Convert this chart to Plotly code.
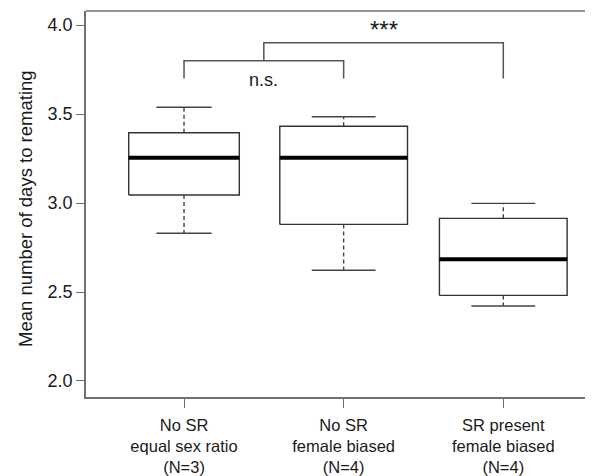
import plotly.graph_objects as go
import numpy as np

# ---- data ----
categories = ["No SR<br>equal sex ratio<br>(N=3)",
              "No SR<br>female biased<br>(N=4)",
              "SR present<br>female biased<br>(N=4)"]
group_n = [3, 4, 4]
lower_whisker = [2.830, 2.622, 2.421]
q1 = [3.045, 2.880, 2.481]
median = [3.255, 3.255, 2.684]
q3 = [3.395, 3.431, 2.914]
upper_whisker = [3.538, 3.485, 2.998]
y_ticks = [2.0, 2.5, 3.0, 3.5, 4.0]

# significance brackets
sig_low = dict(x0=1, x1=2, y=3.80, tip=3.70, label="n.s.", lx=1.5, ly=3.69)
sig_high = dict(x0=1.5, x1=3, y=3.90, tip_left=3.80, tip_right=3.70, label="***", lx=2.25, ly=3.975)

FONT = "Liberation Sans, Arial, Helvetica, sans-serif"
TXT = "#1a1a1a"
BOX_COL = "#333333"
AX_COL = "#707070"

pos = np.arange(1, len(categories) + 1)
nmax = max(group_n)
half_w = [0.40 * np.sqrt(n / nmax) for n in group_n]

fig = go.Figure()

box_x, box_y = [], []
med_x, med_y = [], []
wh_x, wh_y = [], []
cap_x, cap_y = [], []
for i, p in enumerate(pos):
    hw = half_w[i]
    box_x += [p - hw, p + hw, p + hw, p - hw, p - hw, None]
    box_y += [q1[i], q1[i], q3[i], q3[i], q1[i], None]
    med_x += [p - hw, p + hw, None]
    med_y += [median[i], median[i], None]
    wh_x += [p, p, None, p, p, None]
    wh_y += [q3[i], upper_whisker[i], None, q1[i], lower_whisker[i], None]
    cw = hw / 2
    cap_x += [p - cw, p + cw, None, p - cw, p + cw, None]
    cap_y += [upper_whisker[i], upper_whisker[i], None, lower_whisker[i], lower_whisker[i], None]

fig.add_trace(go.Scatter(x=wh_x, y=wh_y, mode="lines",
                         line=dict(color="#444444", width=1.4, dash="4px,3px"),
                         hoverinfo="skip", showlegend=False))
fig.add_trace(go.Scatter(x=cap_x, y=cap_y, mode="lines",
                         line=dict(color="#444444", width=1.4),
                         hoverinfo="skip", showlegend=False))
fig.add_trace(go.Scatter(x=box_x, y=box_y, mode="lines",
                         line=dict(color=BOX_COL, width=1.4),
                         hoverinfo="skip", showlegend=False))
fig.add_trace(go.Scatter(x=med_x, y=med_y, mode="lines",
                         line=dict(color="#000000", width=4),
                         hoverinfo="skip", showlegend=False))

# brackets
bx = [sig_low["x0"], sig_low["x0"], sig_low["x1"], sig_low["x1"], None,
      sig_high["x0"], sig_high["x0"], sig_high["x1"], sig_high["x1"]]
by = [sig_low["tip"], sig_low["y"], sig_low["y"], sig_low["tip"], None,
      sig_high["tip_left"], sig_high["y"], sig_high["y"], sig_high["tip_right"]]
fig.add_trace(go.Scatter(x=bx, y=by, mode="lines",
                         line=dict(color="#555555", width=1.5),
                         hoverinfo="skip", showlegend=False))

fig.add_annotation(x=sig_low["lx"], y=sig_low["ly"], text=sig_low["label"], showarrow=False,
                   xref="x", yref="y", font=dict(family=FONT, size=18, color=TXT))
fig.add_annotation(x=sig_high["lx"], y=sig_high["ly"], text=sig_high["label"], showarrow=False,
                   xref="x", yref="y", font=dict(family=FONT, size=24, color=TXT))

fig.add_annotation(xref="paper", yref="paper", x=0, y=0.487, xanchor="center",
                   yanchor="middle", xshift=-61, textangle=-90, showarrow=False,
                   text="Mean number of days to remating",
                   font=dict(family=FONT, size=18.5, color=TXT))

fig.add_shape(type="line", xref="paper", yref="paper", x0=0, x1=1, y0=1, y1=1,
              line=dict(color=AX_COL, width=1.5))

# page body has an 8px default margin, so the figure is shifted by 8px
fig.update_layout(
    width=585, height=468,
    margin=dict(l=78, r=0, t=3, b=79, autoexpand=False),
    paper_bgcolor="white", plot_bgcolor="white",
    font=dict(family=FONT, size=18, color=TXT),
    showlegend=False,
    xaxis=dict(range=[0.386, 3.562], tickmode="array", tickvals=list(pos),
               ticktext=categories, showgrid=False, zeroline=False,
               showline=True, linecolor=AX_COL, linewidth=1.5,
               ticks="outside", ticklen=9, tickcolor=AX_COL, tickwidth=1.2,
               ticklabelstandoff=3, automargin=False,
               tickfont=dict(family=FONT, size=16.5, color=TXT)),
    yaxis=dict(range=[1.910, 4.079], tickmode="array", tickvals=y_ticks,
               ticktext=[f"{v:.1f}" for v in y_ticks], showgrid=False,
               zeroline=False, showline=True, linecolor=AX_COL, linewidth=1.5,
               ticks="outside", ticklen=8, tickcolor=AX_COL, tickwidth=1.2,
               automargin=False,
               tickfont=dict(family=FONT, size=18, color=TXT)),
)

fig.write_html("out.html")
